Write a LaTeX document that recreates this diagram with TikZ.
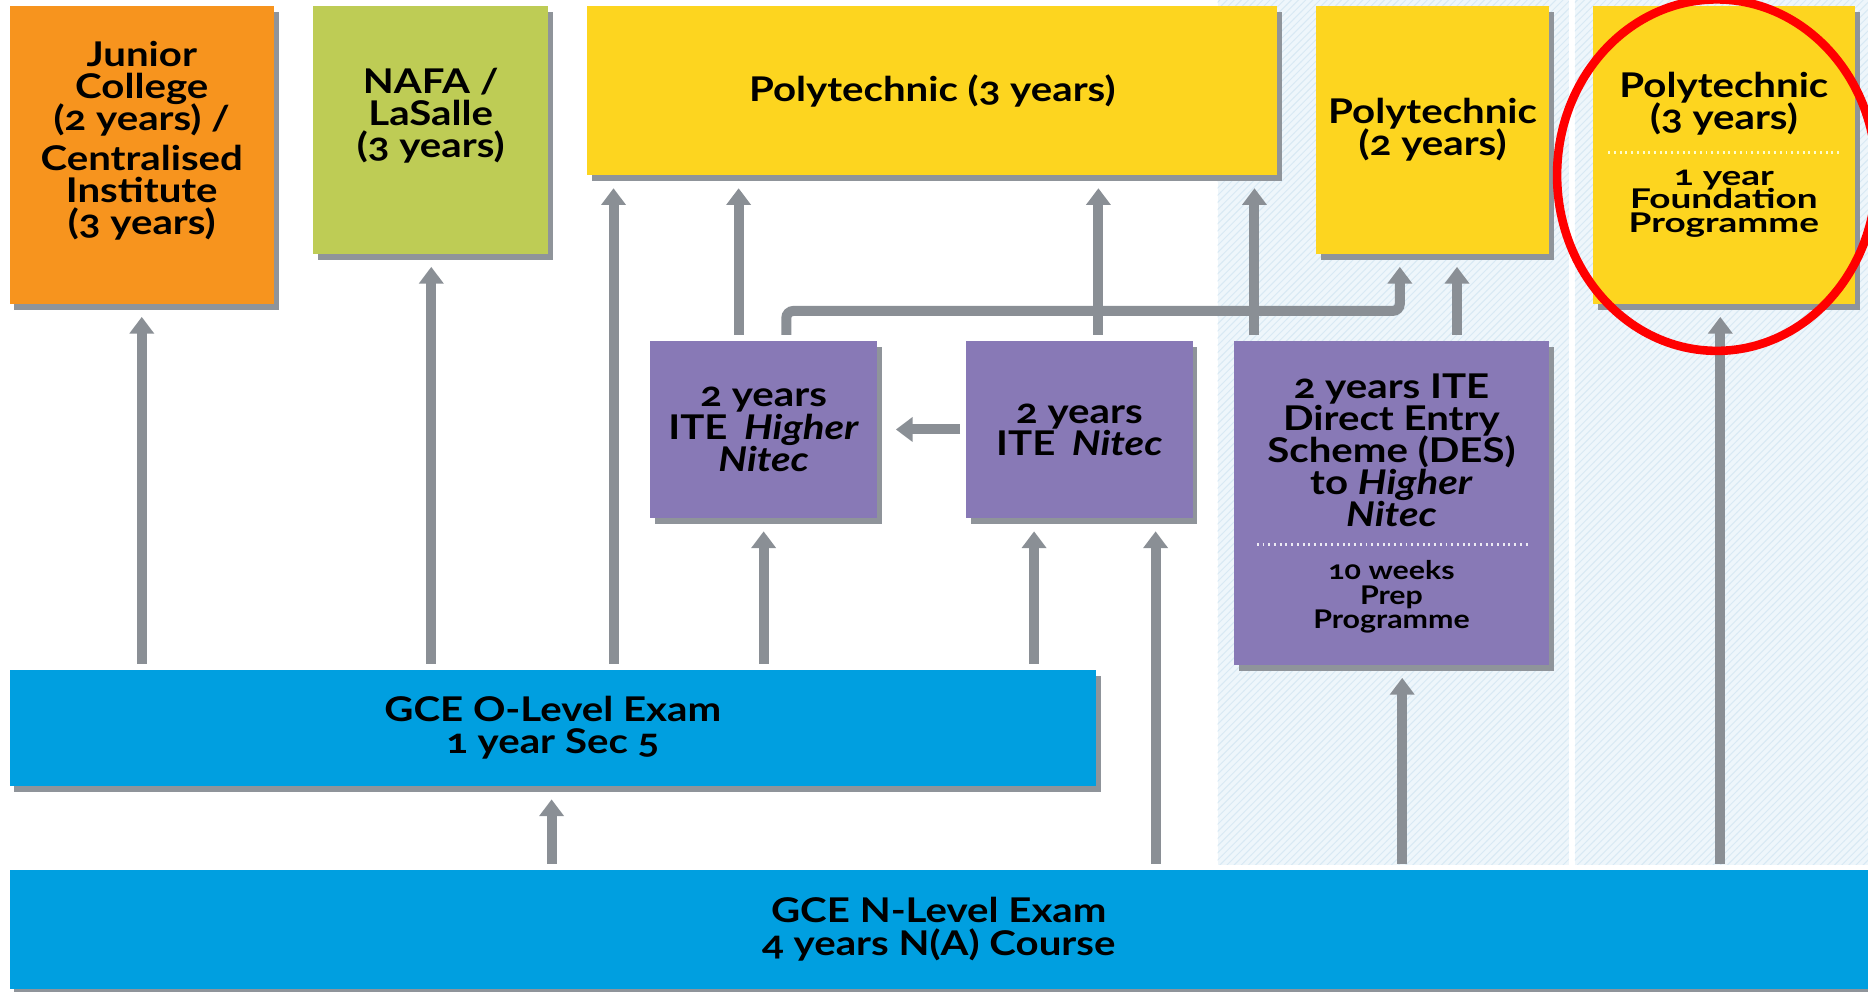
\documentclass[tikz,border=0pt]{standalone}
\usepackage{fontspec}
\setmainfont{Lato}[Numbers=OldStyle, FakeStretch=1.18]
\newfontfamily\widefam{Lato}[Numbers=OldStyle, FakeStretch=1.36]
\usetikzlibrary{arrows.meta,shadows,patterns}
\definecolor{jcorange}{HTML}{F7941E}
\definecolor{nafagreen}{HTML}{BECC55}
\definecolor{polyyellow}{HTML}{FDD51F}
\definecolor{itepurple}{HTML}{8879B6}
\definecolor{examblue}{HTML}{009FE0}
\definecolor{arrowgray}{HTML}{8A8F95}
\definecolor{shadowgray}{HTML}{8F949A}
\definecolor{hatchbg}{HTML}{EEF6FB}
\definecolor{hatchline}{HTML}{D8E9F4}
\definecolor{ringred}{HTML}{FF0000}
\newcommand\mainfs{\bfseries\fontsize{14.3}{13.5}\selectfont\lineskiplimit=-30pt\lineskip=0pt}
\newcommand\smallfs{\widefam\bfseries\fontsize{11.4}{10}\selectfont\lineskiplimit=-30pt\lineskip=0pt}
\newcommand\prepfs{\bfseries\fontsize{10.8}{10.3}\selectfont\lineskiplimit=-30pt\lineskip=0pt}
\begin{document}
\begin{tikzpicture}[x=0.5pt,y=-0.5pt,
  box/.style={rectangle, inner sep=0pt, outer sep=0pt, align=center, font=\mainfs,
    drop shadow={fill=shadowgray, opacity=1, shadow xshift=2pt, shadow yshift=-2.5pt}},
  lbl/.style={inner sep=0pt, align=center, font=\mainfs},
  conn/.style={draw=arrowgray, line width=4.2pt, -{Triangle[length=7pt,width=10pt]},
    shorten <=2.5pt, shorten >=5.5pt},
  sepline/.style={line width=0.9pt, dash pattern=on 0.8pt off 1.6pt}]
\useasboundingbox (0,0) rectangle (1568,832);
\clip (0,0) rectangle (1568,832);
% hatched background regions
\fill[hatchbg] (1022,0) rectangle (1317,726);
\fill[hatchbg] (1322,0) rectangle (1568,726);
\fill[pattern=north east lines, pattern color=hatchline] (1022,0) rectangle (1317,726);
\fill[pattern=north east lines, pattern color=hatchline] (1322,0) rectangle (1568,726);
% boxes
\node[box, fill=jcorange, minimum width=111pt, minimum height=125pt] (jc) at (119,130) {};
\node[lbl] (jct) at (119,118) {Junior\\College\\(2 years) /\\[3pt]Centralised\\Institute\\(3 years)};
\node[box, fill=nafagreen, minimum width=98.5pt, minimum height=104pt] (nafa) at (361.5,109) {};
\node[lbl] (nafat) at (361.5,97) {NAFA /\\LaSalle\\(3 years)};
\node[box, fill=polyyellow, minimum width=289.5pt, minimum height=71pt] (p3) at (782.5,76) {Polytechnic (3 years)};
\node[box, fill=polyyellow, minimum width=97.5pt, minimum height=104pt] (p2) at (1202.5,109) {Polytechnic\\(2 years)};
\node[box, fill=polyyellow, minimum width=110pt, minimum height=125pt] (pf) at (1447,130) {};
\node[lbl] (pft) at (1447,87) {Polytechnic\\(3 years)};
\node[lbl, font=\smallfs] (pfb) at (1447,171) {1 year\\Foundation\\Programme};
\draw[sepline, draw=yellow!20!white] (1350,128) -- (1545,128);
\node[box, fill=itepurple, minimum width=95pt, minimum height=74.5pt] (hn) at (641,360.5) {2 years\\ITE\hspace{0.2em} \textit{Higher}\\\textit{Nitec}};
\node[box, fill=itepurple, minimum width=95pt, minimum height=74.5pt] (nit) at (906,360.5) {2 years\\ITE\hspace{0.2em} \textit{Nitec}};
\node[box, fill=itepurple, minimum width=132pt, minimum height=136pt] (des) at (1168,422) {};
\node[lbl] (dest) at (1168,378) {2 years ITE\\Direct Entry\\Scheme (DES)\\to \textit{Higher}\\\textit{Nitec}};
\node[lbl, font=\prepfs] (desb) at (1168,501) {10 weeks\\Prep\\Programme};
\draw[sepline, draw=white!85!itepurple] (1055,457) -- (1285,457);
\node[box, fill=examblue, minimum width=456pt, minimum height=49pt] (ol) at (464,611) {GCE O-Level Exam\\1 year Sec 5};
\node[box, fill=examblue, minimum width=780pt, minimum height=50pt] (nl) at (788,780) {GCE N-Level Exam\\4 years N(A) Course};
% connectors
\draw[conn] (119,0 |- ol.north) -- (119,0 |- jc.south);
\draw[conn] (362,0 |- ol.north) -- (362,0 |- nafa.south);
\draw[conn] (515,0 |- ol.north) -- (515,0 |- p3.south);
\draw[conn] (641,0 |- ol.north) -- (641,0 |- hn.south);
\draw[conn] (868,0 |- ol.north) -- (868,0 |- nit.south);
\draw[conn] (970,0 |- nl.north) -- (970,0 |- nit.south);
\draw[conn] (463,0 |- nl.north) -- (463,0 |- ol.south);
\draw[conn] (1177,0 |- nl.north) -- (1177,0 |- des.south);
\draw[conn] (1444,0 |- nl.north) -- (1444,0 |- pf.south);
\draw[conn] (620,0 |- hn.north) -- (620,0 |- p3.south);
\draw[conn] (922,0 |- nit.north) -- (922,0 |- p3.south);
\draw[conn] (1053,0 |- des.north) -- (1053,0 |- p3.south);
\draw[conn] (1223,0 |- des.north) -- (1223,0 |- p2.south);
\coordinate (bend) at (900,261);
\draw[conn, rounded corners=3pt] (660,0 |- hn.north) |- (bend) -| (1175,0 |- p2.south);
\draw[conn, shorten >=8pt] (nit.west) -- (hn.east);
% highlight ring
\draw[ringred, line width=3.6pt] (1441,147) ellipse [x radius=67pt, y radius=73.75pt];
\end{tikzpicture}
\end{document}
